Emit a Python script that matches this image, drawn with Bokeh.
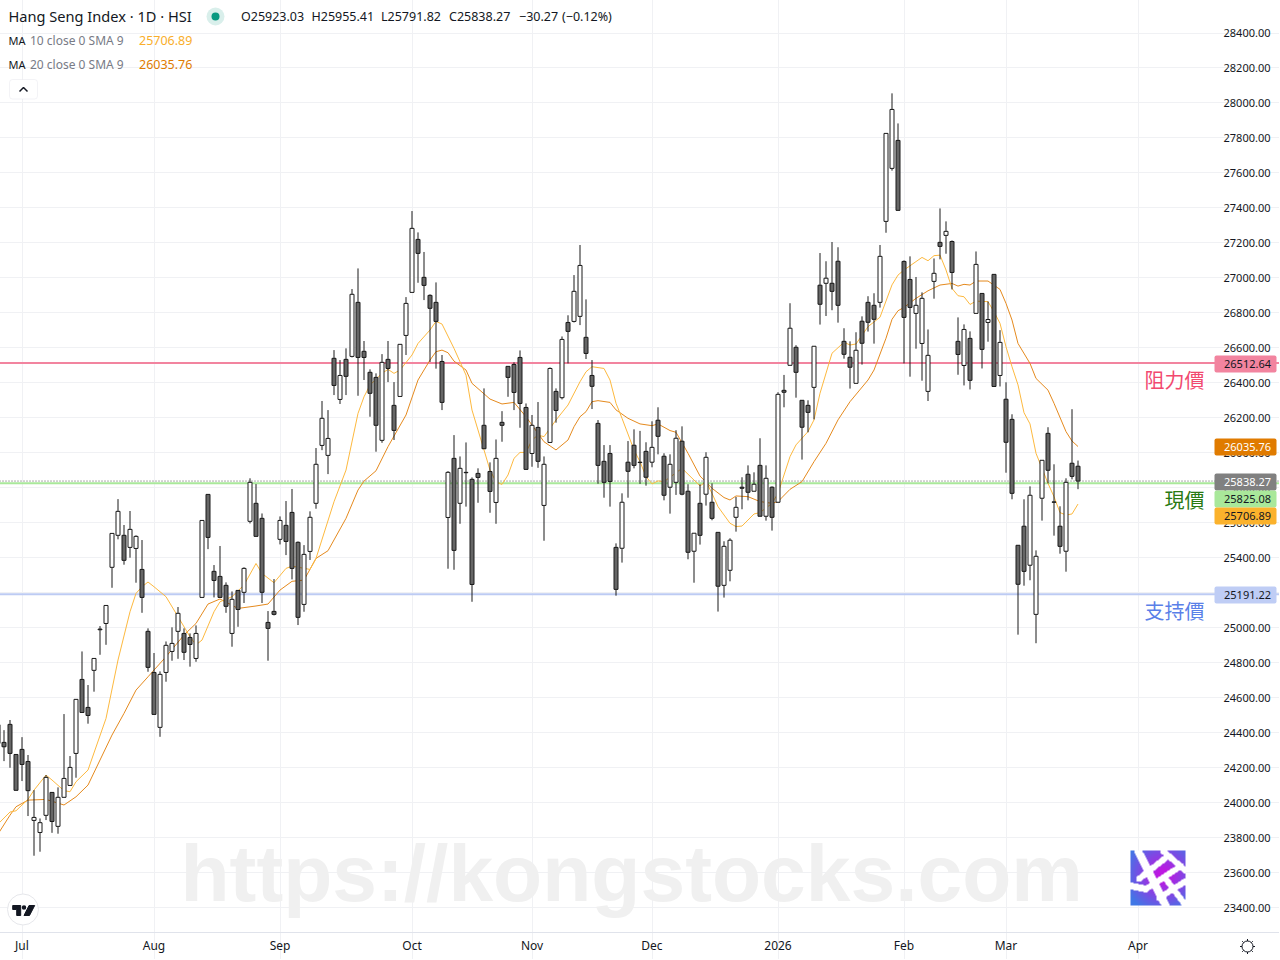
import numpy as np
from bokeh.embed import file_html
from bokeh.resources import INLINE
from bokeh.plotting import figure
from bokeh.models import (Range1d, FixedTicker, Span, Label, BoxAnnotation,
                          ColumnDataSource, NumeralTickFormatter)

first_index = -1
opens = [24445,24344,24447,24275,24304,24235,23898,23829,23927,24058,23864,24030,24098,24281,24704,24544,24756,24992,25024,25345,25528,25528,25459,25453,25333,24979,24744,24430,24744,24864,24979,24967,24944,24824,25173,25762,25322,25293,25242,24967,25213,25202,25608,25711,25625,25030,25093,25505,25585,25659,25488,25133,25436,25711,26042,25985,26540,26305,26534,26551,26860,26580,26460,26431,26071,26534,26271,26322,26671,26917,27220,27003,26900,26860,26522,25630,25968,25711,25888,25848,25882,26157,25893,25716,26174,26494,26505,26545,26259,25996,26145,25699,26059,26351,26315,26745,26751,26780,26660,26442,26168,25951,25996,25459,25454,25946,26043,25946,26008,25946,26186,25980,25803,25831,26066,25780,25437,25711,25763,25717,25545,25242,25328,25631,25803,25877,25780,25928,25637,25803,25717,26357,26500,26603,26300,26271,26374,26958,26969,26969,27095,26637,26546,26397,26752,26860,26843,26860,27323,27626,27786,27094,26991,26797,26625,26351,26980,27203,27243,27208,26637,26499,26654,26797,26911,26745,27020,26442,26306,26191,25471,25580,25357,25076,25740,26111,25719,25580,25437,25940,25923.03]
highs = [24477,24414,24472,24275,24374,24272,24071,23909,24157,24058,24087,24506,24266,24590,24864,24672,24824,25009,25127,25539,25735,25587,25667,25528,25501,24996,24855,24750,24921,25002,25118,24996,24967,25013,25613,25762,25358,25467,25259,25207,25213,25345,25854,25821,25653,25095,25278,25636,25724,25793,25493,25472,25665,26027,26296,26244,26587,26530,26597,26936,27054,26639,26477,26454,26564,26639,26404,26620,26890,27382,27260,27148,26906,26974,26559,25895,26101,25979,26059,25859,25911,26368,25945,26076,26238,26494,26517,26585,26282,26216,26290,25979,26488,26368,26665,26786,27016,27188,26877,26530,26187,26044,26044,25482,25768,26067,26134,26125,26060,26180,26260,25997,25991,26129,26151,25820,25540,25820,26003,25825,25545,25494,25511,25747,25860,25928,25888,26083,25928,25808,26346,26445,26855,26615,26300,26300,26609,27142,27095,27205,27175,26712,26637,26689,26780,26895,26912,27188,27826,28055,27883,27100,27123,27005,26917,26705,27111,27397,27323,27214,26774,26734,26694,27151,26911,26865,27020,26701,26403,26220,25471,25734,25808,25442,25957,26146,25934,25694,25854,26249,25955.41]
lows = [24300,24237,24199,24070,24123,23923,23696,23719,23900,23827,23822,24030,24098,24142,24515,24451,24634,24845,24902,25228,25505,25360,25400,25257,25085,24748,24504,24376,24691,24811,24822,24815,24777,24805,25173,25449,25173,25173,25085,24891,25005,25141,25596,25522,25141,24811,25070,25476,25415,25276,25015,25091,25387,25680,26015,25878,26330,26279,26330,26545,26326,26416,26206,26006,26057,26404,26073,26322,26559,26917,26972,26873,26519,26481,26244,25337,25331,25594,25692,25148,25714,26023,25657,25594,26063,26320,26244,26143,25905,25920,25914,25497,26059,26172,26305,26511,26745,26730,26536,26250,25823,25743,25692,25183,25372,25743,25911,25822,25812,25917,25991,25728,25652,25759,25757,25391,25257,25475,25698,25614,25092,25172,25265,25549,25677,25728,25780,25637,25612,25555,25717,26260,26500,26315,25961,26117,26191,26733,26782,26815,26744,26538,26367,26397,26504,26693,26624,26830,27258,27613,27386,26511,26435,26595,26412,26296,26881,27106,27138,26934,26446,26385,26362,26797,26482,26635,26379,26379,25886,25734,24960,25240,25271,24911,25612,25825,25526,25423,25320,25848,25791.82]
closes = [24338,24319,24281,24070,24218,24068,23915,23885,24144,23892,24030,24138,24201,24590,24515,24498,24824,24988,25127,25539,25665,25385,25562,25522,25173,24773,24504,24733,24899,24910,25082,24859,24904,24967,25613,25516,25270,25173,25122,25162,25104,25339,25831,25522,25202,24996,25076,25613,25493,25339,25059,25419,25631,25934,26197,26082,26385,26442,26437,26906,26545,26545,26340,26157,26517,26482,26128,26620,26854,27283,27140,26957,26826,26751,26288,25888,25442,25911,25886,25247,25859,26023,25779,25968,26157,26431,26345,26282,25905,26157,25951,25934,26482,26242,26648,26694,26923,27071,26568,26380,25928,25831,25836,25219,25717,25894,25928,25944,25860,26031,26094,25757,25934,26083,25763,25431,25540,25528,25974,25625,25237,25465,25500,25688,25797,25774,25820,25637,25854,25631,26334,26346,26712,26460,26146,26231,26609,26849,26998,26923,26843,26563,26489,26586,26626,26746,26763,27123,27826,27963,27386,26774,26831,26843,26883,26557,27026,27180,27266,27031,26562,26705,26414,27077,26591,26762,26379,26631,26060,25768,25248,25322,25757,25408,25957,25900,25717,25465,25831,25865,25838.27]

ma10_index = [-1,1,2,3,4,5,7,8,10,11,12,14,17,19,21,22,23,24,25,27,29,31,32,33,35,36,38,40,42,43,45,47,48,51,52,55,57,59,60,61,63,64,65,66,68,69,71,72,73,75,77,78,80,81,82,83,84,85,86,87,88,89,90,92,94,96,97,98,100,101,102,103,105,106,107,108,109,110,113,115,116,117,118,119,121,122,123,125,126,128,129,131,132,134,135,136,138,140,141,142,144,146,148,149,150,153,154,155,156,157,158,159,160,161,162,164,165,166,167,168,169,170,171,172,173,174,175,176,177,178,179]
ma10_value = [23877,23946,23953,23986,24018,24071,24157,24129,24068,24062,24119,24186,24481,24815,25091,25196,25234,25261,25234,25177,25063,24948,24902,24929,25091,25148,25177,25244,25367,25310,25257,25339,25352,25333,25396,25720,25901,26225,26320,26387,26454,26477,26454,26473,26559,26625,26702,26751,26736,26597,26444,26244,26016,25901,25834,25819,25873,25968,26002,26002,26073,26101,26092,26187,26273,26406,26463,26492,26482,26416,26283,26197,26016,25949,25864,25822,25839,25835,25911,25844,25810,25835,25768,25692,25597,25578,25581,25650,25658,25711,25768,25978,26045,26121,26188,26340,26569,26632,26616,26622,26721,26775,26960,27016,27045,27117,27098,27127,27130,27045,26940,26898,26892,26848,26867,26864,26806,26740,26606,26492,26388,26229,26165,25997,25911,25825,25749,25658,25644,25650,25706.89]
ma20_index = [-1,1,2,4,7,10,12,14,18,20,22,24,27,30,32,34,36,39,42,44,46,48,50,52,54,57,59,60,62,64,67,69,71,72,73,74,75,77,78,81,83,85,87,90,92,94,95,96,97,98,99,101,102,104,106,108,109,111,112,114,116,118,120,121,122,124,126,128,129,131,133,135,137,139,141,144,145,147,148,149,150,152,154,156,158,159,160,161,162,164,166,167,168,169,171,172,174,175,177,178,179]
ma20_value = [23820,23928,23976,24014,24018,23986,24033,24100,24386,24510,24643,24719,24834,24958,25024,25135,25164,25110,25124,25135,25215,25265,25272,25396,25440,25625,25787,25838,25897,26035,26216,26416,26530,26578,26587,26572,26524,26473,26397,26307,26279,26288,26206,26063,26016,26073,26149,26206,26235,26292,26298,26288,26245,26197,26165,26155,26165,26127,26117,25997,25867,25797,25744,25730,25753,25749,25721,25711,25721,25791,25835,25949,26054,26188,26292,26416,26473,26655,26763,26812,26831,26883,26926,26959,26968,26953,26963,26959,26982,26982,26934,26854,26759,26625,26511,26425,26358,26283,26121,26067,26035.76]

tick_index = [3,25,46,68,88,108,129,150,167,189]
tick_labels = ["Jul","Aug","Sep","Oct","Nov","Dec","2026","Feb","Mar","Apr"]
price_ticks = list(range(23400, 28600, 200))

resistance = 26512.64
support = 25191.22
current = 25825.08
last_close = 25838.27

FONT = "Noto Sans"
CJK = "Noto Sans CJK TC"
FW, FH = 1280, 960
xmin, xmax = -0.75, -0.75 + FW / 6
ymax = 28591.6
ymin = ymax - FH * 5.7176
X = lambda px: xmin + (xmax - xmin) * px / FW
Y = lambda py: ymax - (ymax - ymin) * py / FH

p = figure(width=FW, height=FH, x_range=Range1d(xmin, xmax), y_range=Range1d(ymin, ymax),
           y_axis_location="right", output_backend="svg", toolbar_location=None, tools="",
           min_border_left=0, min_border_top=0, min_border_right=0, min_border_bottom=0,
           margin=(-1, 0, 0, -1), outline_line_color=None, background_fill_color="white")

p.xaxis.ticker = FixedTicker(ticks=tick_index)
p.xaxis.major_label_overrides = dict(zip(tick_index, tick_labels))
p.yaxis.ticker = FixedTicker(ticks=price_ticks)
p.yaxis.formatter = NumeralTickFormatter(format="0.00")
for ax in (p.xaxis[0], p.yaxis[0]):
    ax.major_tick_line_color = None
    ax.minor_tick_line_color = None
    ax.major_tick_out = 0
    ax.major_tick_in = 0
    ax.major_label_text_font = FONT
    ax.major_label_text_color = "#131722"
p.xaxis.major_label_text_font_size = "12px"
p.yaxis.major_label_text_font_size = "11px"
p.xaxis.fixed_location = Y(933)
p.yaxis.fixed_location = X(1214)
p.xaxis.axis_line_color = "#e0e3eb"
p.yaxis.axis_line_color = None
p.xaxis.major_label_standoff = 4
p.yaxis.major_label_standoff = 10
p.xgrid.ticker = FixedTicker(ticks=tick_index)
p.ygrid.ticker = FixedTicker(ticks=price_ticks)
p.xgrid.grid_line_color = "#f0f1f4"
p.ygrid.grid_line_color = "#f0f1f4"

# watermark
p.add_layout(Label(x=181, y=FH - 873, x_units="screen", y_units="screen", text="https://kongstocks.com",
                   text_font="Liberation Sans", text_font_style="bold", text_font_size="80.4px",
                   text_color="#f0f0f0", text_baseline="middle", text_align="left", level="underlay"))

# level lines
p.add_layout(Span(location=resistance, dimension="width", line_color="#f2849f", line_width=2, level="underlay"))
p.add_layout(Span(location=support, dimension="width", line_color="#bdcbf3", line_width=2, level="underlay"))
p.add_layout(Span(location=current, dimension="width", line_color="#a9e89a", line_width=2, level="underlay"))
p.add_layout(Span(location=last_close, dimension="width", line_color="#555555", line_width=1, line_dash="1 2", level="underlay"))

# the axis strips stay clear of grid and level lines
p.quad(left=[X(1215)], right=[X(1280)], top=[Y(0)], bottom=[Y(960)], fill_color="white", line_color=None, level="underlay")
p.quad(left=[X(0)], right=[X(1280)], top=[Y(933.5)], bottom=[Y(960)], fill_color="white", line_color=None, level="underlay")

# moving averages
p.line(ma20_index, ma20_value, line_color="#e58a1e", line_width=1)
p.line(ma10_index, ma10_value, line_color="#fdb93f", line_width=1)

# candles
idx = [first_index + i for i in range(len(opens))]
src = ColumnDataSource(dict(
    x=idx, o=opens, h=highs, l=lows, c=closes,
    top=[max(a, b) for a, b in zip(opens, closes)],
    bottom=[min(a, b) for a, b in zip(opens, closes)],
    fill=["#ffffff" if c > o else "#666666" for o, c in zip(opens, closes)],
))
p.segment("x", "h", "x", "l", source=src, line_color="#1a1a1a", line_width=1)
p.vbar(x="x", top="top", bottom="bottom", width=4 / 6, fill_color="fill", line_color="#1a1a1a", line_width=1, source=src)

# header
def lab(x, y, text, color="#131722", size="12px", font=FONT, align="left", **kw):
    p.add_layout(Label(x=x, y=FH - y, x_units="screen", y_units="screen", text=text, text_color=color,
                       text_font=font, text_font_size=size, text_baseline="middle", text_align=align, **kw))

lab(9, 16, "Hang Seng Index · 1D · HSI", size="14.6px")
p.scatter([X(216)], [Y(17)], size=18, marker="circle", fill_color="#d9efeb", line_color=None)
p.scatter([X(216)], [Y(17)], size=8, marker="circle", fill_color="#089981", line_color=None)
for x, t in [(241.5, "O25923.03"), (312, "H25955.41"), (381.5, "L25791.82"), (449.5, "C25838.27"), (519.5, "−30.27"), (562.5, "(−0.12%)")]:
    lab(x, 16.5, t, size="12.5px")
lab(9, 40.5, "MA", "#131722", size="11px")
lab(30.5, 40.5, "10 close 0 SMA 9", "#787b86")
lab(139.5, 40.5, "25706.89", "#f9ae2b", size="12.5px")
lab(9, 64.5, "MA", "#131722", size="11px")
lab(30.5, 64.5, "20 close 0 SMA 9", "#787b86")
lab(139.5, 64.5, "26035.76", "#e07b00", size="12.5px")

# collapse button
p.add_layout(BoxAnnotation(left=X(10), right=X(38), top=Y(80), bottom=Y(99.5), fill_color="white", fill_alpha=1,
                           line_color="#d6d8e0", line_width=1, border_radius=3))
p.line([X(20), X(24), X(28)], [Y(92), Y(88), Y(92)], line_color="#131722", line_width=1.5, level="overlay")

# TradingView mark
p.scatter([X(23.5)], [Y(910)], size=31, marker="circle", fill_color="white", line_color="#e6e7eb")
p.patch([X(x) for x in (13.2, 21.2, 21.2, 17.2, 17.2, 13.2)], [Y(y) for y in (906, 906, 916, 916, 910, 910)], color="#131722")
p.scatter([X(24.5)], [Y(908)], size=4.5, marker="circle", fill_color="#131722", line_color=None)
p.patch([X(x) for x in (29.5, 35.2, 30, 24.5)], [Y(y) for y in (906, 906, 916, 916)], color="#131722")

# corner picture
n = 55
yy, xx = np.mgrid[0:n, 0:n]
t = np.clip(1.15 - np.hypot(xx - 32, yy - 24) / 34, 0, 1)
img = np.zeros((n, n, 4), dtype=np.uint8)
img[..., 0] = (65 + 125 * t).astype(np.uint8)
img[..., 1] = (120 - 95 * t).astype(np.uint8)
img[..., 2] = (230 - 5 * t).astype(np.uint8)
img[..., 3] = 255
bands = [((7, 0), (35, 55), 8), ((0, 35), (15, 38), 7), ((32, 0), (55, 20), 6), ((8, 28), (37, 5), 6),
         ((15, 38), (50, 15), 6), ((28, 47), (55, 30), 6), ((35, 28), (55, 55), 6)]
for (x0, y0), (x1, y1), w in bands:
    dx, dy = x1 - x0, y1 - y0
    s = np.clip(((xx - x0) * dx + (yy - y0) * dy) / (dx * dx + dy * dy), 0, 1)
    d = np.hypot(xx - x0 - s * dx, yy - y0 - s * dy)
    img[d < w / 2] = (255, 255, 255, 255)
view = np.flipud(img).view(np.uint32).reshape(n, n)
p.image_rgba(image=[view], x=X(1131), y=Y(906), dw=X(1186) - X(1131), dh=Y(851) - Y(906))

# annotations
lab(1205, 380, "阻力價", "#f2496f", size="20px", font=CJK, align="right")
lab(1205, 499.5, "現價", "#2a7a13", size="20px", font=CJK, align="right")
lab(1205, 611, "支持價", "#5a7fe8", size="20px", font=CJK, align="right")

# price tags on the right
tags = [(356, 373, "#f2849f", "#131722", "26512.64"), (439, 456, "#e07b00", "#ffffff", "26035.76"),
        (474, 491, "#808080", "#ffffff", "25838.27"), (491, 508, "#a9e89a", "#131722", "25825.08"),
        (508, 525, "#fbb22c", "#131722", "25706.89"), (587, 604, "#bfcdf5", "#131722", "25191.22")]
for top, bot, fc, tc, t in tags:
    p.add_layout(BoxAnnotation(left=X(1215), right=X(1277), top=Y(top), bottom=Y(bot), fill_color=fc, fill_alpha=1,
                               line_color=None, border_radius=2))
    lab(1224.5, (top + bot) / 2, t, tc, size="11px")

# settings mark
p.scatter([X(1248)], [Y(947)], size=11, marker="circle", fill_color=None, line_color="#131722", line_width=1)
ang = np.arange(8) * np.pi / 4
p.segment(x0=[X(1248 + 5.5 * np.cos(a)) for a in ang], y0=[Y(947 + 5.5 * np.sin(a)) for a in ang],
          x1=[X(1248 + 7.5 * np.cos(a)) for a in ang], y1=[Y(947 + 7.5 * np.sin(a)) for a in ang],
          line_color="#131722", line_width=1)

open("out.html", "w").write(file_html(p, INLINE))
